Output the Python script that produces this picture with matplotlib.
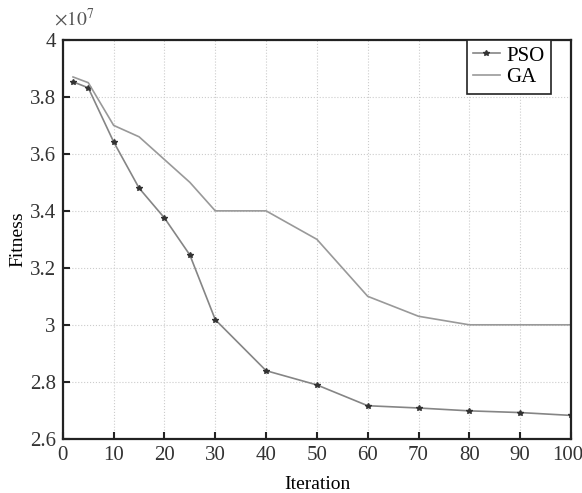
import matplotlib
matplotlib.use('Agg')
import matplotlib.pyplot as plt
import matplotlib.transforms as mtransforms
from matplotlib.ticker import FuncFormatter

# data (fitness values in units of 1e7)
iters = [2, 5, 10, 15, 20, 25, 30, 40, 50, 60, 70, 80, 90, 100]
pso = [3.853, 3.832, 3.642, 3.48, 3.375, 3.245, 3.018, 2.839, 2.789, 2.716, 2.708, 2.698, 2.692, 2.682]
ga = [3.87, 3.85, 3.70, 3.66, 3.58, 3.50, 3.40, 3.40, 3.30, 3.10, 3.03, 3.00, 3.00, 3.00]
yticks = [2.6, 2.8, 3.0, 3.2, 3.4, 3.6, 3.8, 4.0]

plt.rcParams['font.family'] = ['Liberation Serif', 'DejaVu Serif']
plt.rcParams['font.size'] = 15
plt.rcParams['mathtext.fontset'] = 'stix'

fig = plt.figure(figsize=(5.82, 4.93), dpi=100)
ax = fig.add_axes([0.108, 0.110, 0.873, 0.809])

ax.plot(iters, [v * 1e7 for v in pso], color='#858585', lw=1.2, marker='*',
        markersize=4, markerfacecolor='#333333', markeredgecolor='#333333', label='PSO')
ax.plot(iters, [v * 1e7 for v in ga], color='#999999', lw=1.2, label='GA')

ax.set_xlim(0, 100)
ax.set_ylim(2.6e7, 4.0e7)
ax.set_xticks(range(0, 101, 10))
ax.set_yticks([v * 1e7 for v in yticks])
ax.yaxis.set_major_formatter(FuncFormatter(lambda v, p: '%g' % round(v / 1e7, 2)))
ax.text(-0.018, 1.025, r'$\times10^{7}$', transform=ax.transAxes, fontsize=14,
        color='#555555', ha='left', va='bottom')

ax.grid(True, linestyle=':', color='#cccccc', lw=0.8)
ax.tick_params(direction='in', length=5, width=1.5, colors='#222222', labelcolor='#333333', pad=5)
ax.tick_params(top=False, right=False)
for s in ax.spines.values():
    s.set_linewidth(1.6)
    s.set_color('#222222')

# nudge the last x label so it stays inside the image
fig.canvas.draw()
last = ax.get_xticklabels()[-1]
last.set_transform(last.get_transform() + mtransforms.ScaledTranslation(-3 / 100, 0, fig.dpi_scale_trans))

ax.set_xlabel('Iteration', labelpad=8, fontsize=14)
ax.set_ylabel('Fitness', labelpad=2, fontsize=14)

leg = ax.legend(loc='upper right', fancybox=False, framealpha=1, edgecolor='#222222',
                bbox_to_anchor=(0.96, 1.0), borderaxespad=0.0, handlelength=1.3,
                handletextpad=0.3, borderpad=0.3, labelspacing=0.1, fontsize=15)
leg.get_frame().set_linewidth(1.2)

fig.savefig('out.png', dpi=100)
